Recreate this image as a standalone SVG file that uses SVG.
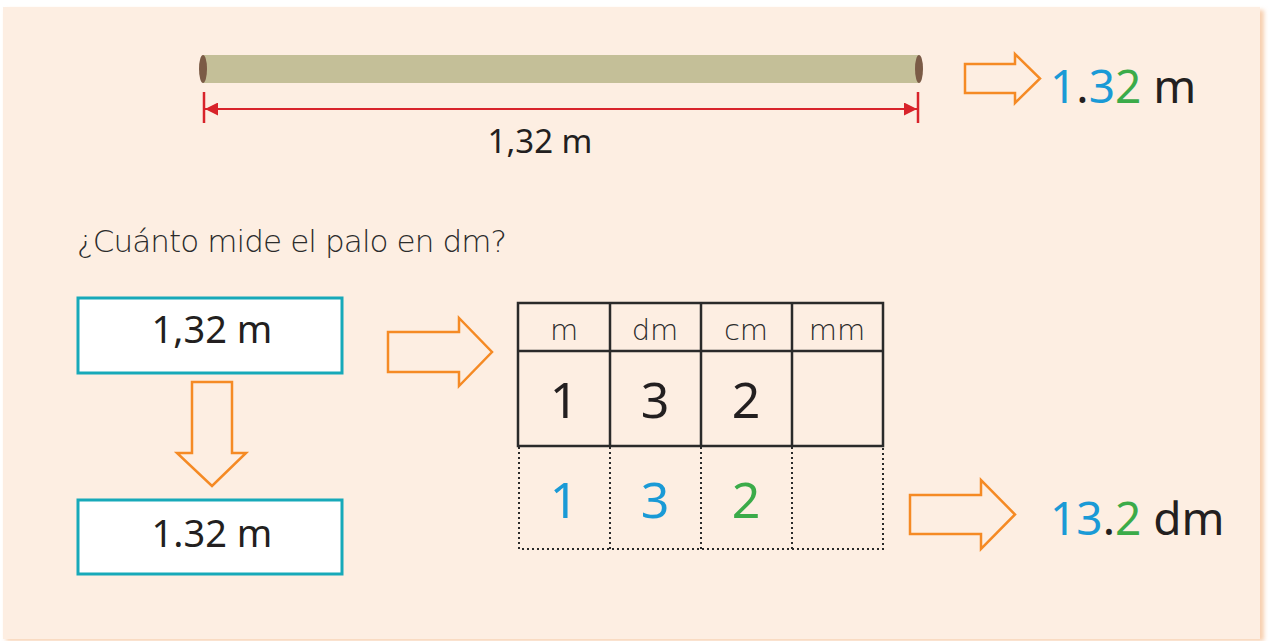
<svg xmlns="http://www.w3.org/2000/svg" width="1270" height="641" viewBox="0 0 1270 641">
<defs>
<style>
text{font-family:"Noto Sans","Liberation Sans",sans-serif;fill:#231f20}
.blue{fill:#1a9ad6}
.green{fill:#3bab49}
.lt{font-family:"DejaVu Sans","Noto Sans",sans-serif;font-weight:200;fill:#2b2b2b}
.box{fill:#fff;stroke:#17a9b9;stroke-width:3}
.oarrow{fill:none;stroke:#f58a24;stroke-width:2.5;stroke-linejoin:miter}
.grid{stroke:#2a2a2a;stroke-width:2.5;fill:none}
.dot{stroke:#2a2a2a;stroke-width:2;stroke-dasharray:2 3;fill:none}
</style>
<marker id="ah" viewBox="0 0 10 10" refX="10" refY="5" markerWidth="15" markerHeight="13" markerUnits="userSpaceOnUse" orient="auto-start-reverse">
<path d="M0,0 L10,5 L0,10 z" fill="#d8232a"/>
</marker>
<filter id="sh" x="-2%" y="-2%" width="104%" height="104%">
<feGaussianBlur stdDeviation="2"/>
</filter>
</defs>
<rect width="1270" height="641" fill="#fff"/>
<rect x="6" y="10" width="1258" height="631" fill="#f7cfae" filter="url(#sh)"/>
<rect x="3" y="7" width="1257" height="632" fill="#fdeee2"/>

<g id="stick">
<rect x="203" y="55" width="716" height="28" fill="#c4bf98"/>
<ellipse cx="203" cy="69" rx="4" ry="14" fill="#7b5b46"/>
<ellipse cx="919" cy="69" rx="4" ry="14" fill="#7b5b46"/>
</g>
<g id="dimension">
<line x1="204" y1="92" x2="204" y2="123" stroke="#d8232a" stroke-width="2.5"/>
<line x1="918" y1="92" x2="918" y2="123" stroke="#d8232a" stroke-width="2.5"/>
<line x1="205" y1="109" x2="917" y2="109" stroke="#d8232a" stroke-width="2" marker-start="url(#ah)" marker-end="url(#ah)"/>
<text x="540" y="153" font-size="33" text-anchor="middle">1,32 m</text>
</g>

<g id="result-top">
<text x="1050" y="103" font-size="46"><tspan class="blue">1</tspan><tspan>.</tspan><tspan class="blue">3</tspan><tspan class="green">2</tspan><tspan> m</tspan></text>
</g>

<g id="question">
<text x="77" y="252" font-size="31" class="lt" textLength="430" lengthAdjust="spacing">¿Cuánto mide el palo en dm?</text>
</g>

<g id="box1">
<rect class="box" x="78" y="298" width="264" height="75"/>
<text x="212" y="343" font-size="38" text-anchor="middle">1,32 m</text>
</g>
<g id="box2">
<rect class="box" x="78" y="500" width="264" height="74"/>
<text x="212" y="547" font-size="38" text-anchor="middle">1.32 m</text>
</g>

<g id="table">
<rect class="grid" x="518" y="303" width="365" height="143"/>
<line class="grid" x1="518" y1="351" x2="883" y2="351"/>
<line class="grid" x1="610" y1="303" x2="610" y2="446"/>
<line class="grid" x1="701" y1="303" x2="701" y2="446"/>
<line class="grid" x1="792" y1="303" x2="792" y2="446"/>
<path class="dot" d="M519,447 V549 H883 V447 M610,447 V549 M701,447 V549 M792,447 V549"/>
<g font-size="29" text-anchor="middle">
<text x="564" y="340" class="lt">m</text>
<text x="655" y="340" class="lt">dm</text>
<text x="746" y="340" class="lt">cm</text>
<text x="837" y="340" class="lt">mm</text>
</g>
<g font-size="50" text-anchor="middle">
<text x="564" y="418">1</text>
<text x="655" y="418">3</text>
<text x="746" y="418">2</text>
<text x="564" y="518" class="blue">1</text>
<text x="655" y="518" class="blue">3</text>
<text x="746" y="518" class="green">2</text>
</g>
</g>

<g id="result-bottom">
<text x="1050" y="535" font-size="46"><tspan class="blue">13</tspan><tspan>.</tspan><tspan class="green">2</tspan><tspan> dm</tspan></text>
</g>

<g id="connectors">
<path class="oarrow" d="M965,64 H1015 V54 L1040,78.5 L1015,103 V93 H965 Z"/>
<path class="oarrow" d="M388,332 H459 V318 L492,352 L459,386 V372 H388 Z"/>
<path class="oarrow" d="M192,382 H232 V453 H246 L212,486 L177,453 H192 Z"/>
<path class="oarrow" d="M910,495 H981 V480 L1015,514.5 L981,549 V534 H910 Z"/>
</g>
</svg>
